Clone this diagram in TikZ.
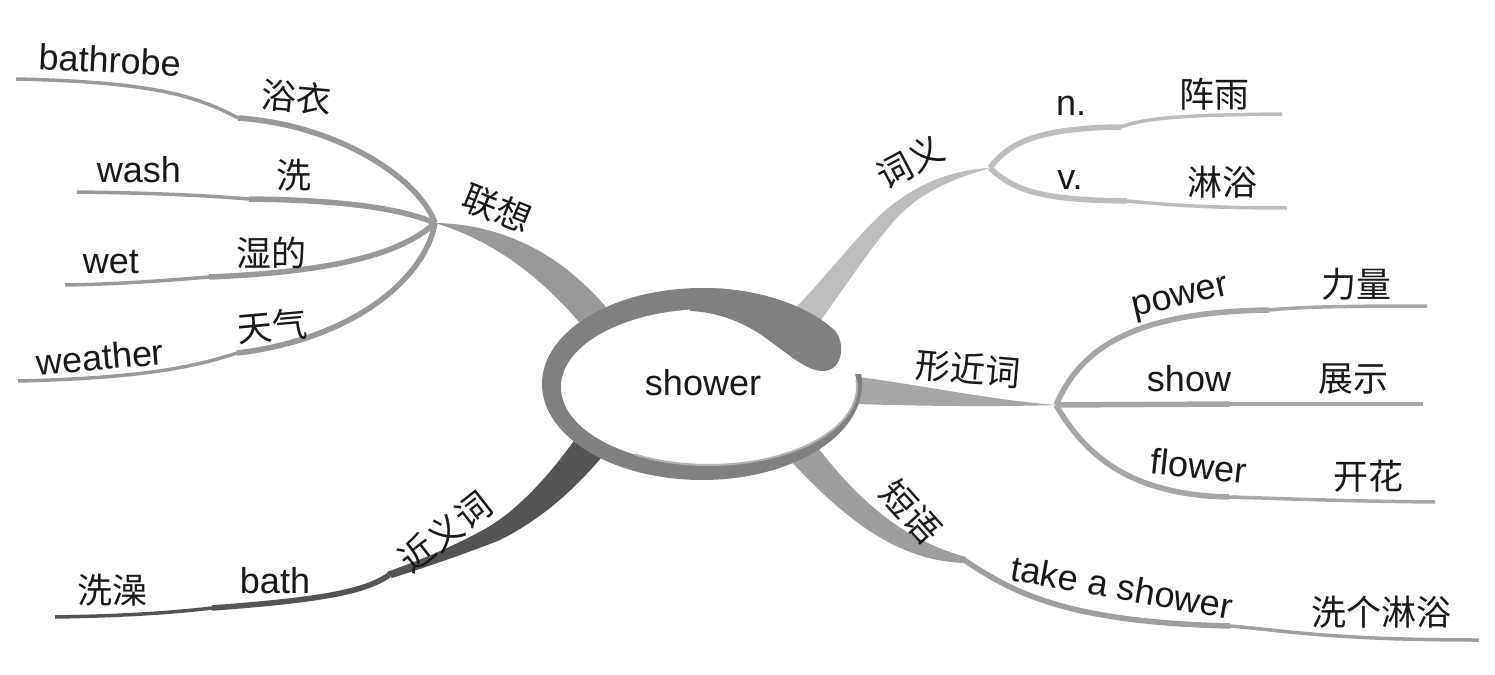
\documentclass[tikz,border=0pt]{standalone}
\usepackage{fontspec}
\setmainfont{Liberation Sans}
\newfontfamily\cjk{Noto Sans CJK SC}

\definecolor{ringgray}{gray}{0.5}
\definecolor{assocgray}{gray}{0.6}
\definecolor{meangray}{gray}{0.74}
\definecolor{formgray}{gray}{0.65}
\definecolor{phrasegray}{gray}{0.62}
\definecolor{syngray}{gray}{0.33}

\begin{document}
\begin{tikzpicture}[x=1pt, y=-1pt,
    en/.style={font=\fontsize{36}{40}\selectfont, text=black!90, inner sep=0pt},
    cn/.style={font=\cjk\fontsize{35}{40}\selectfont, text=black!90, inner sep=0pt},
    twig/.style={line width=5.5},
    leaf/.style={line width=3.5}]
    \useasboundingbox (0,0) rectangle (1495,674);

    % forks and kinks of the branches
    \coordinate (assocfork) at (435,223);
    \coordinate (robekink) at (238,118);     \coordinate (robeend) at (16,79);
    \coordinate (washkink) at (249,199);     \coordinate (washend) at (77,192);
    \coordinate (wetkink) at (209,277);      \coordinate (wetend) at (65,285);
    \coordinate (weatherkink) at (237,353);  \coordinate (weatherend) at (18,381);
    \coordinate (meanfork) at (990,168);
    \coordinate (nounkink) at (1121,127);    \coordinate (nounend) at (1282,114);
    \coordinate (verbkink) at (1127,201);    \coordinate (verbend) at (1287,208);
    \coordinate (formfork) at (1056,405);
    \coordinate (powerkink) at (1269,310);   \coordinate (powerend) at (1427,306);
    \coordinate (showkink) at (1230,404);    \coordinate (showend) at (1423,404);
    \coordinate (flowerkink) at (1229,497);  \coordinate (flowerend) at (1435,502);
    \coordinate (phrasefork) at (964,560);
    \coordinate (takekink) at (1230,626);    \coordinate (takeend) at (1479,640);
    \coordinate (synfork) at (389,575);
    \coordinate (bathkink) at (212,608);     \coordinate (bathend) at (55,617);

    % main branches
    \fill[assocgray] (assocfork) .. controls (500,224) and (565,252) .. (618,322) -- (594,340)
        .. controls (548,282) and (498,242) .. (assocfork) -- cycle;
    \fill[meangray] (meanfork) .. controls (945,170) and (905,190) .. (875,220)
        .. controls (845,250) and (815,290) .. (785,318) -- (812,332)
        .. controls (840,295) and (865,255) .. (893,222)
        .. controls (920,192) and (950,180) .. (meanfork) -- cycle;
    \fill[formgray] (formfork) .. controls (990,400) and (910,383) .. (857,377) -- (835,376)
        -- (835,405) -- (857,404) .. controls (920,406) and (990,407) .. (formfork) -- cycle;
    \fill[phrasegray] (812,440) .. controls (850,490) and (895,538) .. (966,557)
        -- (phrasefork) -- (963,563) .. controls (900,560) and (850,525) .. (788,458) -- cycle;
    \fill[syngray] (578,435) .. controls (555,468) and (520,510) .. (483,530)
        .. controls (450,548) and (420,560) .. (387,572) -- (synfork) -- (392,578)
        .. controls (430,566) and (470,552) .. (500,540)
        .. controls (540,520) and (575,490) .. (606,452) -- cycle;

    % sub-branches
    \draw[assocgray, twig] (assocfork) .. controls (420,180) and (340,125) .. (robekink);
    \draw[assocgray, leaf] (robekink) .. controls (195,95) and (150,82) .. (robeend);
    \draw[assocgray, twig] (assocfork) .. controls (400,208) and (340,200) .. (washkink);
    \draw[assocgray, leaf] (washkink) .. controls (200,195) and (150,193) .. (washend);
    \draw[assocgray, twig] (assocfork) .. controls (400,255) and (330,272) .. (wetkink);
    \draw[assocgray, leaf] (wetkink) .. controls (160,281) and (120,284) .. (wetend);
    \draw[assocgray, twig] (assocfork) .. controls (425,280) and (350,340) .. (weatherkink);
    \draw[assocgray, leaf] (weatherkink) .. controls (200,365) and (150,378) .. (weatherend);

    \draw[meangray, twig] (meanfork) .. controls (1010,140) and (1045,128) .. (nounkink);
    \draw[meangray, leaf] (nounkink) .. controls (1145,118) and (1180,115) .. (nounend);
    \draw[meangray, twig] (meanfork) .. controls (1015,192) and (1045,200) .. (verbkink);
    \draw[meangray, leaf] (verbkink) .. controls (1160,204) and (1200,208) .. (verbend);

    \draw[formgray, twig] (formfork) .. controls (1080,350) and (1130,312) .. (powerkink);
    \draw[formgray, leaf] (powerkink) .. controls (1300,307) and (1340,306) .. (powerend);
    \draw[formgray, twig] (formfork) -- (showkink);
    \draw[formgray, leaf] (showkink) -- (showend);
    \draw[formgray, twig] (formfork) .. controls (1085,455) and (1130,495) .. (flowerkink);
    \draw[formgray, leaf] (flowerkink) .. controls (1270,498) and (1330,501) .. (flowerend);

    \draw[phrasegray, twig] (phrasefork) .. controls (1010,590) and (1060,622) .. (takekink);
    \draw[phrasegray, leaf] (takekink) .. controls (1280,630) and (1330,640) .. (takeend);

    \draw[syngray, twig] (synfork) .. controls (365,592) and (320,600) .. (bathkink);
    \draw[syngray, leaf] (bathkink) .. controls (170,613) and (120,616) .. (bathend);

    % centre ring
    \begin{scope}
        \clip (400,200) -- (830,200) -- (830,374) -- (900,374) -- (900,600) -- (400,600) -- cycle;
        \fill[ringgray] (702,384) ellipse [x radius=160, y radius=96];
    \end{scope}
    \fill[white] (709,387) ellipse [x radius=148, y radius=78];
    \draw[gray!60, line width=2] (856.4,380.2) arc [start angle=-5, end angle=120, x radius=148, y radius=78];
    \fill[ringgray] (690,288.6) -- (702,288) arc [start angle=-90, end angle=-35, x radius=160, y radius=96]
        .. controls (846,340) and (844,371) .. (823,371) .. controls (806,371) and (790,355) .. (760,334)
        .. controls (735,318) and (712,312) .. (690,311) -- cycle;
    \node[en] (shower) at (703,383) {shower};

    % labels
    \node[cn, rotate=-22] (assoc) at (497,208) {联想};
    \node[en, rotate=-3] (bathrobe) at (110,60) {bathrobe};
    \node[cn, rotate=-5] (robecn) at (297,97) {浴衣};
    \node[en] (wash) at (139,170) {wash};
    \node[cn] (washcn) at (294,175) {洗};
    \node[en] (wet) at (111,262) {wet};
    \node[cn] (wetcn) at (271,253) {湿的};
    \node[en, rotate=5] (weather) at (100,357) {weather};
    \node[cn, rotate=5] (weathercn) at (272,326) {天气};

    \node[cn, rotate=28] (meaning) at (910,162) {词义};
    \node[en] (noun) at (1071,106) {n.};
    \node[cn] (nouncn) at (1214,94) {阵雨};
    \node[en] (verb) at (1070,180) {v.};
    \node[cn] (verbcn) at (1222,182) {淋浴};

    \node[cn, rotate=-5] (form) at (968,369) {形近词};
    \node[en, rotate=13] (power) at (1181,300) {power};
    \node[cn] (powercn) at (1356,284) {力量};
    \node[en] (show) at (1189,379) {show};
    \node[cn] (showcn) at (1353,379) {展示};
    \node[en, rotate=-6] (flower) at (1199,466) {flower};
    \node[cn] (flowercn) at (1368,476) {开花};

    \node[cn, rotate=-48] (phrase) at (911,512) {短语};
    \node[en, rotate=-10] (take) at (1122,587) {take a shower};
    \node[cn] (takecn) at (1381,612) {洗个淋浴};

    \node[cn, rotate=38] (synonym) at (445,532) {近义词};
    \node[en] (bath) at (275,581) {bath};
    \node[cn] (bathcn) at (112,590) {洗澡};
\end{tikzpicture}
\end{document}
